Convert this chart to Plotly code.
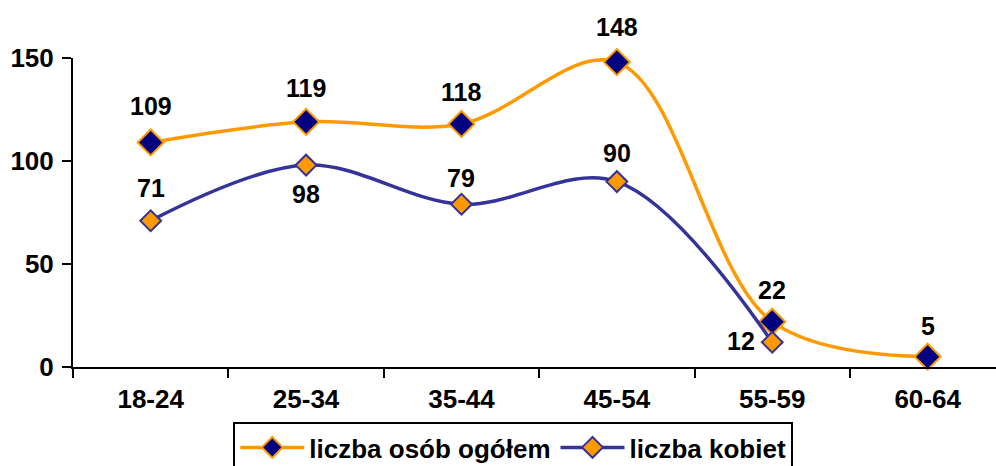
import plotly.graph_objects as go

FONT = "Liberation Sans, Arial, sans-serif"

categories = ["18-24", "25-34", "35-44", "45-54", "55-59", "60-64"]
ogolem = [109, 119, 118, 148, 22, 5]
kobiety = [71, 98, 79, 90, 12]

# label offsets in px (x shift, y shift) for each point
ogolem_shift = [(0, 36), (0, 34), (0, 32), (0, 35), (0, 32), (0, 31)]
kobiety_shift = [(0, 33), (0, -29), (0, 26), (0, 29), (-31, 1)]

ORANGE = "#FF9900"
NAVY = "#000080"
BLUE = "#333399"

fig = go.Figure()
fig.add_trace(go.Scatter(
    x=categories, y=ogolem, name="liczba osób ogółem",
    mode="lines+markers",
    line=dict(color=ORANGE, width=3.5, shape="spline", smoothing=1.0),
    marker=dict(symbol="diamond", size=20, color=NAVY, line=dict(color=ORANGE, width=2)),
    cliponaxis=False,
))
fig.add_trace(go.Scatter(
    x=categories[:len(kobiety)], y=kobiety, name="liczba kobiet",
    mode="lines+markers",
    line=dict(color=BLUE, width=3.5, shape="spline", smoothing=1.0),
    marker=dict(symbol="diamond", size=16, color=ORANGE, line=dict(color=BLUE, width=2)),
    cliponaxis=False,
))

annotations = []
for series, shifts in ((ogolem, ogolem_shift), (kobiety, kobiety_shift)):
    for cat, val, (dx, dy) in zip(categories, series, shifts):
        annotations.append(dict(
            x=cat, y=val, text=str(val), showarrow=False,
            xshift=dx, yshift=dy,
            font=dict(family=FONT, size=25, color="black", weight="bold"),
        ))

fig.update_layout(
    width=996, height=466,
    margin=dict(l=73, r=0, t=58, b=99, autoexpand=False),
    plot_bgcolor="white", paper_bgcolor="white",
    font=dict(family=FONT, size=25, color="black", weight="bold"),
    showlegend=True,
    legend=dict(
        orientation="h", x=0.477, xanchor="center", y=-0.178, yanchor="top",
        bordercolor="black", borderwidth=2, itemwidth=64, tracegroupgap=0,
        font=dict(family=FONT, size=26, color="black", weight="bold"),
    ),
    annotations=annotations,
)
fig.update_xaxes(
    type="category", range=[-0.5, 5.44],
    showline=True, linecolor="black", linewidth=2,
    ticks="outside", tickson="boundaries", ticklen=9, tickwidth=2, tickcolor="black",
    ticklabelstandoff=8,
    showgrid=False, zeroline=False,
    tickfont=dict(size=26),
)
fig.update_yaxes(
    range=[0, 150], tickvals=[0, 50, 100, 150],
    showline=True, linecolor="black", linewidth=2,
    ticks="outside", ticklen=9, tickwidth=2, tickcolor="black",
    ticklabelstandoff=3,
    showgrid=False, zeroline=False,
    tickfont=dict(size=26),
)

fig.write_html(
    "out.html",
    config={"displayModeBar": False},
    post_script="document.body.style.margin='0';",
)
